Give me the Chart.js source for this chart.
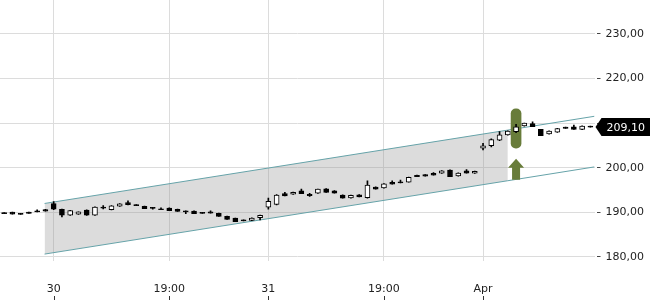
<!DOCTYPE html>
<html>
<head>
<meta charset="utf-8">
<script src="https://cdn.jsdelivr.net/npm/chart.js@4.4.1/dist/chart.umd.min.js"></script>
<style>
  html, body { margin: 0; padding: 0; background: #fff; }
  #wrap { width: 650px; height: 300px; }
</style>
</head>
<body>
<div id="wrap"><canvas id="kursChart"></canvas></div>
<script>
// Kerzen, Index 0..71
const opens  = [189.98, 190.05, 189.78, 190.05, 190.35, 190.65, 192.0, 190.7, 189.35, 189.6,
                190.5, 189.35, 191.2, 190.6, 191.4, 192.2, 191.75, 191.35, 191.15, 190.8,
                190.95, 190.7, 190.35, 190.3, 190.0, 190.1, 189.8, 189.1, 188.7, 188.35,
                188.2, 188.8, 191.15, 191.8, 194.2, 194.1, 194.85, 194.05, 194.3, 195.3,
                194.85, 193.9, 193.25, 193.95, 193.3, 195.7, 195.5, 196.75, 196.85, 196.8,
                198.3, 198.45, 198.75, 198.8, 199.5, 198.15, 199.3, 198.8, 204.4, 204.95,
                206.2, 207.35, 208.1, 209.4, 209.9, 208.6, 207.6, 208.0, 209.1, 209.2,
                208.6, 209.35];
const highs  = [189.98, 190.05, 189.78, 190.05, 190.55, 190.7, 192.45, 190.75, 190.45, 190.15,
                190.55, 191.25, 191.55, 191.5, 191.95, 192.6, 191.75, 191.4, 191.15, 191.0,
                191.0, 190.75, 190.35, 190.35, 190.0, 190.35, 189.85, 189.15, 188.75, 188.35,
                188.8, 189.4, 193.2, 194.0, 194.5, 194.55, 195.2, 194.25, 195.25, 195.35,
                194.9, 193.95, 193.9, 194.0, 197.1, 195.75, 196.45, 197.1, 197.25, 197.9,
                198.35, 198.5, 198.95, 199.35, 199.55, 198.85, 199.6, 199.25, 205.5, 206.5,
                208.1, 208.3, 209.75, 210.05, 210.3, 208.65, 208.3, 208.85, 209.1, 209.6,
                209.4, 209.35];
const lows   = [189.72, 189.6, 189.55, 189.75, 190.1, 190.25, 190.6, 189.0, 189.3, 189.55,
                189.3, 189.3, 190.8, 190.55, 191.35, 191.7, 191.5, 190.85, 190.7, 190.6,
                190.4, 190.2, 189.7, 189.7, 189.75, 189.85, 189.1, 188.45, 187.9, 188.1,
                188.15, 188.3, 190.7, 191.7, 193.7, 194.05, 194.2, 193.6, 194.25, 194.5,
                194.3, 193.2, 193.2, 193.45, 193.2, 195.2, 195.45, 196.3, 196.6, 196.75,
                198.0, 198.1, 198.35, 198.75, 198.0, 198.1, 198.8, 198.75, 204.0, 204.7,
                206.1, 207.3, 207.9, 209.35, 209.2, 207.2, 207.55, 207.95, 208.8, 208.6,
                208.55, 209.1];
const closes = [189.72, 189.6, 189.55, 189.75, 190.1, 190.3, 190.7, 189.35, 190.4, 190.1,
                189.35, 191.2, 190.95, 191.45, 191.9, 191.75, 191.5, 190.85, 190.9, 190.6,
                190.4, 190.2, 190.1, 189.7, 189.75, 189.85, 189.1, 188.45, 187.9, 188.1,
                188.75, 189.35, 192.5, 193.9, 193.7, 194.5, 194.2, 193.75, 195.2, 194.5,
                194.3, 193.2, 193.85, 193.45, 196.1, 195.2, 196.4, 196.3, 196.6, 197.85,
                198.0, 198.1, 198.35, 199.3, 198.0, 198.8, 198.8, 199.2, 204.95, 206.3,
                207.4, 208.25, 209.2, 210.0, 209.2, 207.2, 208.25, 208.8, 208.8, 208.6,
                209.35, 209.1];

// x-Achse: Kerzenindex der Beschriftungen
const tickIndex  = [6, 20, 32, 46, 58];
const tickLabels = ['30', '19:00', '31', '19:00', 'Apr'];
const yTicks     = [180, 190, 200, 210, 220, 230];

// Trendkanal (Anfang, Ende der Fläche, rechter Rand)
const channelX     = [4.9, 61, 71.5];
const channelUpper = [192.0, 208.45, 211.55];
const channelLower = [180.65, 197.1, 200.2];

// Signal bei Kerze 62
const signalIndex = 62;
const signalBar   = [204.4, 213.2];
const signalArrow = [197.3, 200.0, 202.0]; // Fuß, Hals, Spitze

const fmt = v => v.toFixed(2).replace('.', ',');

const bodyData = opens.map((o, i) => ({ x: i, y: [o, closes[i]] }));
const wickData = lows.map((l, i) => ({ x: i, y: [l, highs[i]] }));
const upperLine = channelX.map((x, i) => ({ x: x, y: channelUpper[i] }));
const lowerLine = channelX.map((x, i) => ({ x: x, y: channelLower[i] }));

const extras = {
  id: 'extras',
  afterDatasetsDraw(chart) {
    const c = chart.ctx, xs = chart.scales.x, ys = chart.scales.y;
    const cx = xs.getPixelForValue(signalIndex);
    const yBase = ys.getPixelForValue(signalArrow[0]);
    const yNeck = ys.getPixelForValue(signalArrow[1]);
    const yTip = ys.getPixelForValue(signalArrow[2]);
    c.save();
    c.fillStyle = '#687c3a';
    c.beginPath();
    c.moveTo(cx, yTip);
    c.lineTo(cx + 8, yNeck);
    c.lineTo(cx + 4, yNeck);
    c.lineTo(cx + 4, yBase);
    c.lineTo(cx - 4, yBase);
    c.lineTo(cx - 4, yNeck);
    c.lineTo(cx - 8, yNeck);
    c.closePath();
    c.fill();
    c.restore();
  },
  afterDraw(chart) {
    const c = chart.ctx, xs = chart.scales.x, ys = chart.scales.y;
    const h = chart.height, w = chart.width;
    c.save();
    // kleine Striche unter den Datumsbeschriftungen
    c.strokeStyle = '#333';
    c.lineWidth = 1;
    xs.ticks.forEach(t => {
      const x = Math.round(xs.getPixelForValue(t.value)) + 0.5;
      c.beginPath();
      c.moveTo(x, h - 4);
      c.lineTo(x, h);
      c.stroke();
    });
    // Kursfähnchen
    const last = closes[closes.length - 1];
    const y = Math.round(ys.getPixelForValue(last));
    const x0 = chart.chartArea.right + 1;
    c.fillStyle = '#000';
    c.beginPath();
    c.moveTo(x0, y);
    c.lineTo(x0 + 6, y - 9);
    c.lineTo(w, y - 9);
    c.lineTo(w, y + 9);
    c.lineTo(x0 + 6, y + 9);
    c.closePath();
    c.fill();
    c.fillStyle = '#fff';
    c.font = "11px 'DejaVu Sans'";
    c.textBaseline = 'middle';
    c.textAlign = 'left';
    c.fillText(fmt(last), x0 + 11, y + 1);
    c.restore();
  }
};

Chart.defaults.font.family = "'DejaVu Sans', sans-serif";
Chart.defaults.font.size = 11;
Chart.defaults.color = '#222';

const ctx = document.getElementById('kursChart').getContext('2d');
const chart = new Chart(ctx, {
  type: 'bar',
  data: {
    datasets: [
      {
        label: 'Körper',
        data: bodyData,
        backgroundColor: closes.map((c, i) => c >= opens[i] ? '#fff' : '#000'),
        borderColor: '#000',
        borderWidth: 1,
        borderSkipped: false,
        barThickness: 5,
        grouped: false,
        order: 0
      },
      {
        label: 'Docht',
        data: wickData,
        backgroundColor: '#000',
        borderWidth: 0,
        barThickness: 1,
        grouped: false,
        order: 1
      },
      {
        label: 'Signal',
        data: [{ x: signalIndex, y: signalBar }],
        backgroundColor: '#687c3a',
        borderWidth: 0,
        borderRadius: 5,
        borderSkipped: false,
        barThickness: 10,
        grouped: false,
        order: 2
      },
      {
        type: 'line',
        label: 'Kanal oben',
        data: upperLine,
        borderColor: '#66a3a9',
        borderWidth: 1,
        pointRadius: 0,
        fill: false,
        order: 3
      },
      {
        type: 'line',
        label: 'Kanal unten',
        data: lowerLine,
        borderColor: '#66a3a9',
        borderWidth: 1,
        pointRadius: 0,
        fill: false,
        order: 3
      },
      {
        type: 'line',
        label: 'Fläche oben',
        data: upperLine.slice(0, 2),
        borderColor: 'transparent',
        borderWidth: 1,
        pointRadius: 0,
        fill: '+1',
        backgroundColor: 'rgba(150,150,150,0.33)',
        order: 4
      },
      {
        type: 'line',
        label: 'Fläche unten',
        data: lowerLine.slice(0, 2),
        borderColor: 'transparent',
        borderWidth: 1,
        pointRadius: 0,
        fill: false,
        order: 4
      }
    ]
  },
  options: {
    responsive: true,
    maintainAspectRatio: false,
    animation: false,
    layout: { padding: { top: 0, right: 1, bottom: 0, left: 0 } },
    plugins: {
      legend: { display: false },
      tooltip: { enabled: false }
    },
    scales: {
      x: {
        type: 'linear',
        min: -0.5,
        max: 71.5,
        offset: false,
        grid: { color: 'rgb(220,220,220)', offset: false, drawTicks: false },
        border: { display: false },
        afterBuildTicks: s => { s.ticks = tickIndex.map(v => ({ value: v })); },
        afterFit: s => { s.height = 39; },
        ticks: {
          autoSkip: false,
          maxRotation: 0,
          padding: 22,
          callback: (v, i) => tickLabels[i]
        }
      },
      y: {
        position: 'right',
        min: 179.1,
        max: 237.62,
        grid: {
          color: 'rgb(220,220,220)',
          tickColor: '#444',
          tickLength: 6,
          tickBorderDash: [0, 2, 4, 10]
        },
        border: { display: false },
        afterBuildTicks: s => { s.ticks = yTicks.map(v => ({ value: v })); },
        afterFit: s => { s.paddingTop = 0; s.paddingBottom = 0; },
        ticks: {
          padding: 5,
          callback: v => fmt(v)
        }
      }
    }
  },
  plugins: [extras]
});
</script>
</body>
</html>
